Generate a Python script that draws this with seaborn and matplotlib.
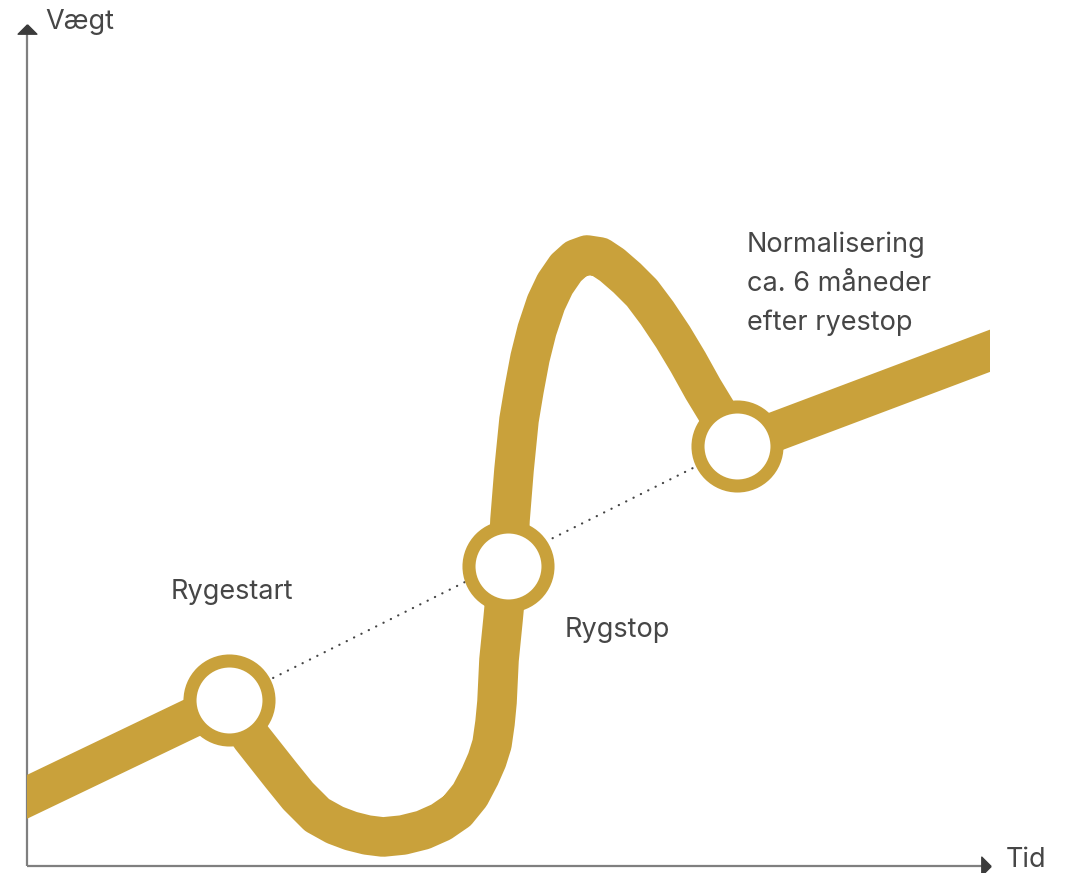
import matplotlib
matplotlib.use("Agg")
import matplotlib.pyplot as plt
from matplotlib.patches import Rectangle
import seaborn as sns
import pandas as pd

# ---- data (units: tid / vægt) ----
curve_tid = [10, 229, 251, 266, 281, 298, 317, 335, 351, 367, 383, 403, 423, 441,
             457, 470, 480, 487, 492, 495, 497, 499, 503, 508, 510, 514, 519, 524,
             530, 537, 546, 555, 566, 576, 587, 600, 612, 627, 642, 657, 673, 688,
             703, 720, 737, 1000]
curve_vaegt = [68, 173, 136, 117, 98, 77, 58, 48, 42, 38, 36, 38, 43, 51,
               62, 78, 97, 113, 129, 150, 171, 213, 253, 307, 353, 403, 453, 483,
               515, 543, 570, 589, 605, 614, 618, 616, 608, 595, 580, 560, 536, 511,
               484, 456, 427, 526]

event_labels = ["Rygestart", "Rygstop", "Normalisering\nca. 6 måneder\nefter ryestop"]
event_tid = [229, 508, 737]
event_vaegt = [173, 307, 427]

trend_tid = [229, 737]
trend_vaegt = [173, 427]

axis_x_label = "Tid"
axis_y_label = "Vægt"

GOLD = "#C9A13B"
TEXT = "#464646"

sns.set_theme(style="white")
plt.rcParams["font.family"] = ["Inter", "DejaVu Sans"]

fig = plt.figure(figsize=(10.68, 8.73), dpi=100)
ax = fig.add_axes([0, 0, 1, 1])
ax.set_xlim(0, 1068)
ax.set_ylim(0, 873)
ax.axis("off")

# axes lines
ax.plot([27, 27], [7, 840], color="#7F7F7F", linewidth=1.6, zorder=1, solid_capstyle="butt")
ax.plot([27, 983], [7, 7], color="#7F7F7F", linewidth=1.6, zorder=1, solid_capstyle="butt")
tri_up = [(0, 0.5), (-1, -0.5), (1, -0.5), (0, 0.5)]
tri_right = [(0.5, 0), (-0.5, 1), (-0.5, -1), (0.5, 0)]
ax.plot([27], [844], marker=tri_up, markersize=13.5, color="#3B3B3B", linestyle="none", zorder=2)
ax.plot([986], [7], marker=tri_right, markersize=13.5, color="#3B3B3B", linestyle="none", zorder=2)

# dotted trend
ax.plot(trend_tid, trend_vaegt, color="#444444", linewidth=1.6,
        linestyle=(0, (0.1, 3.6)), dash_capstyle="round", zorder=2)

# main curve
df = pd.DataFrame({"tid": curve_tid, "vaegt": curve_vaegt})
n_before = len(ax.lines)
sns.lineplot(data=df, x="tid", y="vaegt", sort=False, estimator=None, ax=ax,
             color=GOLD, linewidth=28.5, zorder=3)
clip = Rectangle((27, 0), 963, 873, transform=ax.transData, facecolor="none", edgecolor="none")
ax.add_patch(clip)
for ln in ax.lines[n_before:]:
    ln.set_solid_joinstyle("round")
    ln.set_solid_capstyle("butt")
    ln.set_clip_path(clip)

# event circles
sns.scatterplot(x=event_tid, y=event_vaegt, ax=ax, s=3236, facecolor="white",
                edgecolor=GOLD, linewidth=9.4, zorder=4)

# labels
fs = 19.5
ax.text(171, 281, event_labels[0], fontsize=fs, color=TEXT, ha="left", va="center")
ax.text(565, 243, event_labels[1], fontsize=fs, color=TEXT, ha="left", va="center")
ax.text(747, 589, event_labels[2], fontsize=fs, color=TEXT, ha="left", va="center",
        linespacing=1.62)
ax.text(45, 851, axis_y_label, fontsize=fs, color=TEXT, ha="left", va="center")
ax.text(1006, 13, axis_x_label, fontsize=fs, color=TEXT, ha="left", va="center")

fig.savefig("out.png", dpi=100)
